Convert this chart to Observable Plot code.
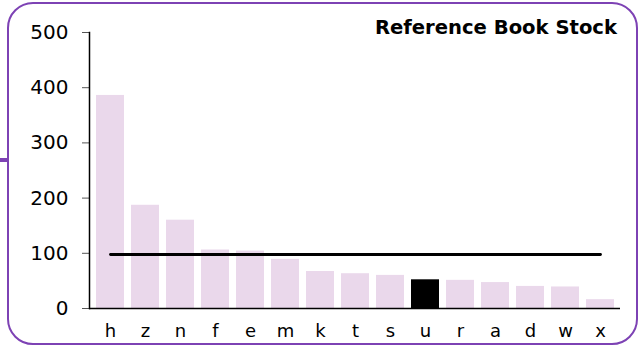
<!DOCTYPE html>
<html>
<head>
<meta charset="utf-8">
<script src="https://cdn.jsdelivr.net/npm/d3@7"></script>
<script src="https://cdn.jsdelivr.net/npm/@observablehq/plot@0.6"></script>
<style>
  html, body { margin: 0; padding: 0; background: #fff; }
  #wrap { position: relative; width: 638px; height: 347px; font-family: "DejaVu Sans", Verdana, sans-serif; }
  #border { position: absolute; left: 7px; top: 2px; width: 627px; height: 339px; border: 2px solid #7d42b4; border-radius: 26px; pointer-events: none; }
  #stub { position: absolute; left: 0; top: 158px; width: 8px; height: 4px; background: #7d42b4; }
  #title { position: absolute; right: 21px; top: 16px; font-size: 19.6px; font-weight: bold; color: #000; white-space: nowrap; }
  #chart { position: absolute; left: 0; top: 0; }
</style>
</head>
<body>
<div id="wrap">
  <div id="chart"></div>
  <div id="border"></div>
  <div id="stub"></div>
  <div id="title">Reference Book Stock</div>
</div>
<script>
const categories = ["h","z","n","f","e","m","k","t","s","u","r","a","d","w","x"];
const stock = [386, 187, 160, 106, 104, 89, 67, 63, 60, 52, 51, 47, 40, 39, 16];
const highlight = "u";
const yTicks = [0, 100, 200, 300, 400, 500];

const data = categories.map((c, i) => ({cat: c, value: stock[i]}));
const avg = d3.mean(stock);

const chart = Plot.plot({
  width: 638,
  height: 347,
  marginLeft: 89,
  marginRight: 18,
  marginTop: 32,
  marginBottom: 39,
  style: {fontFamily: "DejaVu Sans, Verdana, sans-serif", background: "transparent"},
  x: {domain: categories, paddingInner: 0.2, paddingOuter: 0.1, label: null},
  y: {domain: [0, 500], label: null},
  marks: [
    Plot.barY(data, {x: "cat", y: "value", fill: d => d.cat === highlight ? "#000000" : "#ead8eb"}),
    Plot.lineY(data, {x: "cat", y: () => avg, stroke: "#000", strokeWidth: 2.8}),
    Plot.axisY({ticks: yTicks, tickSize: 7, tickPadding: 14, fontSize: 20, stroke: "#555", fill: "#000", label: null}),
    Plot.axisX({tickSize: 0, tickPadding: 16, fontSize: 18, fill: "#000", label: null}),
    Plot.ruleY([0], {stroke: "#000", strokeWidth: 1.5}),
    Plot.frame({anchor: "left", stroke: "#000", strokeWidth: 1.5})
  ]
});
document.getElementById("chart").appendChild(chart);
</script>
</body>
</html>
